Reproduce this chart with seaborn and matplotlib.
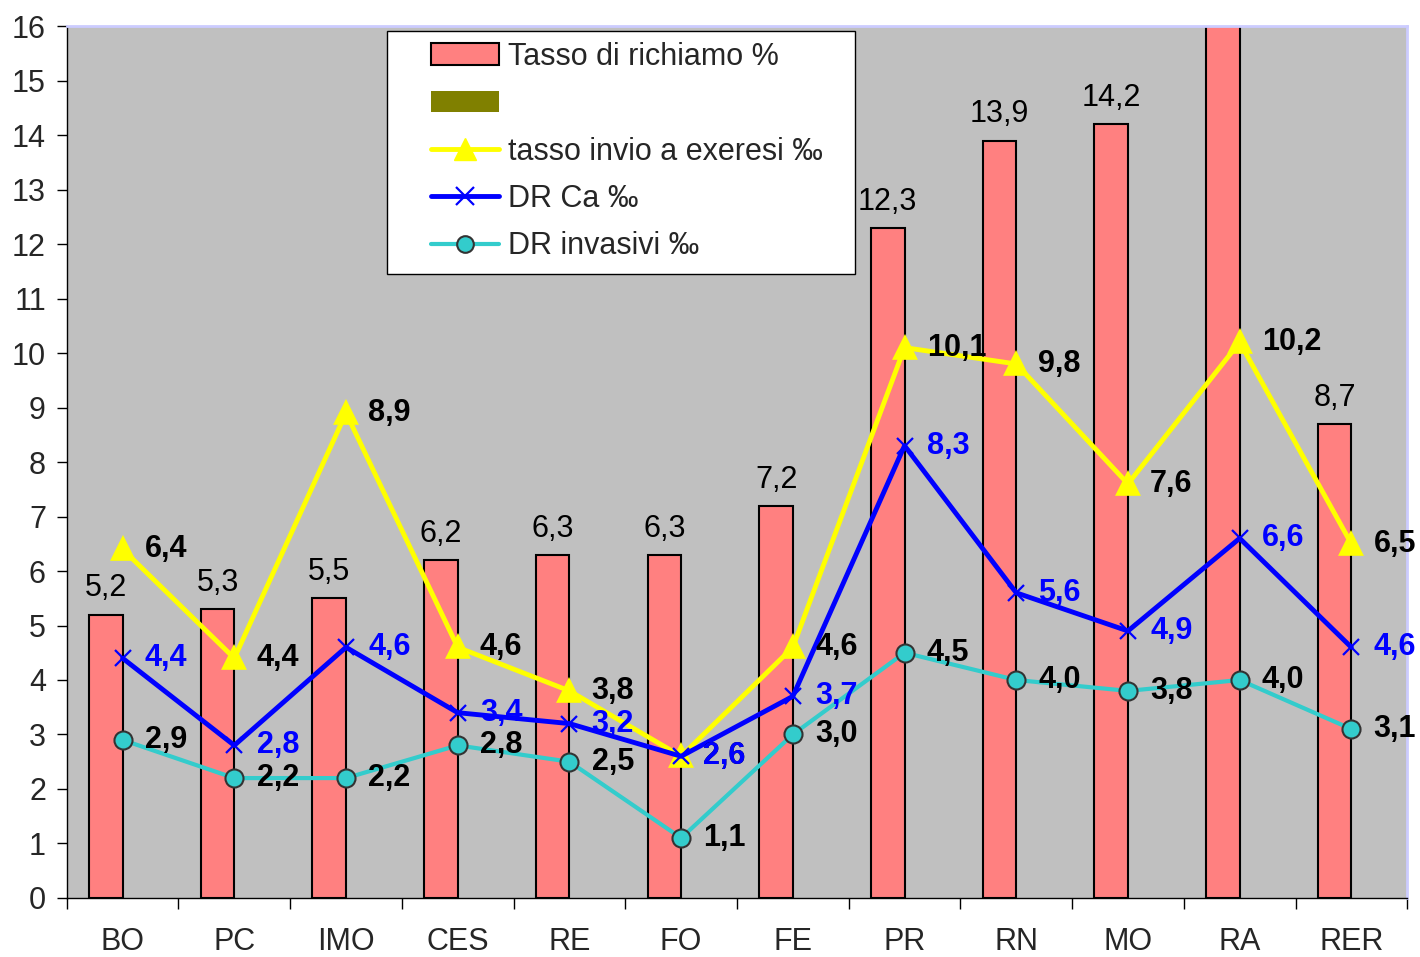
import matplotlib
matplotlib.use("Agg")
import matplotlib.pyplot as plt
import seaborn as sns
import pandas as pd
import numpy as np
from matplotlib.patches import Patch, Rectangle
from matplotlib.lines import Line2D

sns.set_style("ticks")
plt.rcParams['font.family'] = ['Liberation Sans', 'DejaVu Sans']

# data
cats = ['BO', 'PC', 'IMO', 'CES', 'RE', 'FO', 'FE', 'PR', 'RN', 'MO', 'RA', 'RER']
richiamo = [5.2, 5.3, 5.5, 6.2, 6.3, 6.3, 7.2, 12.3, 13.9, 14.2, 16.8, 8.7]
exeresi = [6.4, 4.4, 8.9, 4.6, 3.8, 2.6, 4.6, 10.1, 9.8, 7.6, 10.2, 6.5]
dr_ca = [4.4, 2.8, 4.6, 3.4, 3.2, 2.6, 3.7, 8.3, 5.6, 4.9, 6.6, 4.6]
dr_inv = [2.9, 2.2, 2.2, 2.8, 2.5, 1.1, 3.0, 4.5, 4.0, 3.8, 4.0, 3.1]

lab_bar = 'Tasso di richiamo %'
lab_empty = ' '
lab_ex = 'tasso invio a exeresi ‰'
lab_ca = 'DR Ca ‰'
lab_inv = 'DR invasivi ‰'

c_bar = '#FF8080'
c_olive = '#808000'
c_yel = '#FFFF00'
c_blue = '#0000FF'
c_cyan = '#33CCCC'

FS = 22

bars = pd.DataFrame({
    'cat': cats * 2,
    'val': richiamo + [np.nan] * len(cats),
    'serie': [lab_bar] * len(cats) + [lab_empty] * len(cats),
})

fig = plt.figure(figsize=(14.2, 9.57), dpi=100)
ax = fig.add_axes([0.047, 0.0617, 0.944, 0.911])
ax.set_facecolor('#C0C0C0')

sns.barplot(data=bars, x='cat', y='val', hue='serie', hue_order=[lab_bar, lab_empty],
            palette=[c_bar, c_olive], order=cats, width=0.6, dodge=True, saturation=1,
            edgecolor='black', linewidth=1.5, errorbar=None, legend=False, ax=ax)

sns.pointplot(x=cats, y=exeresi, order=cats, color=c_yel, marker='^', markersize=15,
              linewidth=3.5, errorbar=None, ax=ax)
sns.pointplot(x=cats, y=dr_ca, order=cats, color=c_blue, marker='x', markersize=12,
              markeredgewidth=1.6, linewidth=3.5, errorbar=None, ax=ax)
sns.pointplot(x=cats, y=dr_inv, order=cats, color=c_cyan, marker='o', markersize=13,
              markeredgecolor='#333333', markeredgewidth=1.5, linewidth=3,
              errorbar=None, ax=ax)

fmt = lambda v: f'{v:.1f}'.replace('.', ',')

for i, v in enumerate(richiamo):
    ax.annotate(fmt(v), (i - 0.15, v), xytext=(0, 8), textcoords='offset points',
                ha='center', va='bottom', fontsize=FS, color='black')
for vals, col in [(exeresi, 'black'), (dr_ca, c_blue), (dr_inv, 'black')]:
    for i, v in enumerate(vals):
        ax.annotate(fmt(v), (i, v), xytext=(16, 0), textcoords='offset points',
                    ha='left', va='center', fontsize=FS, fontweight='bold', color=col,
                    zorder=6)

ax.set_xlim(-0.5, len(cats) - 0.5)
ax.set_ylim(0, 16)
ax.set_yticks(range(0, 17))
ax.set_xticks(range(len(cats)))
ax.set_xticklabels(cats)
ax.set_xticks(np.arange(-0.5, len(cats), 1), minor=True)
ax.tick_params(axis='x', which='major', length=0, pad=21, labelsize=FS)
ax.tick_params(axis='x', which='minor', length=8, width=1, direction='out', color='black')
ax.tick_params(axis='y', length=7, width=1, direction='out', pad=8, labelsize=FS, color='black')
ax.set_xlabel('')
ax.set_ylabel('')
for s in ['left', 'bottom']:
    ax.spines[s].set_color('black')
    ax.spines[s].set_linewidth(1)
for s in ['top', 'right']:
    ax.spines[s].set_color('#CCCCFF')
    ax.spines[s].set_linewidth(2)

# legend box
ax.add_patch(Rectangle((0.239, 0.716), 0.349, 0.278, transform=ax.transAxes,
                       facecolor='white', edgecolor='black', linewidth=1, zorder=8))
handles = [
    Patch(facecolor=c_bar, edgecolor='black', linewidth=1.5),
    Patch(facecolor=c_olive, edgecolor='none'),
    Line2D([], [], color=c_yel, lw=3.5, marker='^', markersize=16),
    Line2D([], [], color=c_blue, lw=3.5, marker='x', markersize=13, markeredgewidth=1.6),
    Line2D([], [], color=c_cyan, lw=3, marker='o', markersize=12,
           markeredgecolor='#333333', markeredgewidth=1.5),
]
leg = ax.legend(handles, [lab_bar, lab_empty, lab_ex, lab_ca, lab_inv],
                loc='upper left', bbox_to_anchor=(0.272, 0.982), frameon=False,
                fontsize=FS, handlelength=2.2, handletextpad=0.3, labelspacing=0.57,
                borderpad=0, borderaxespad=0)
leg.set_zorder(9)

fig.savefig('out.png', dpi=100)
